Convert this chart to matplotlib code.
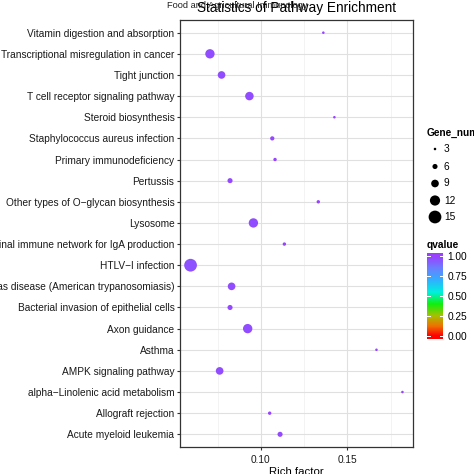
import numpy as np
import matplotlib
matplotlib.use("Agg")
import matplotlib.pyplot as plt
from matplotlib.colors import LinearSegmentedColormap

pathways = [
    "Vitamin digestion and absorption",
    "Transcriptional misregulation in cancer",
    "Tight junction",
    "T cell receptor signaling pathway",
    "Steroid biosynthesis",
    "Staphylococcus aureus infection",
    "Primary immunodeficiency",
    "Pertussis",
    "Other types of O\u2212glycan biosynthesis",
    "Lysosome",
    "Intestinal immune network for IgA production",
    "HTLV\u2212I infection",
    "Chagas disease (American trypanosomiasis)",
    "Bacterial invasion of epithelial cells",
    "Axon guidance",
    "Asthma",
    "AMPK signaling pathway",
    "alpha\u2212Linolenic acid metabolism",
    "Allograft rejection",
    "Acute myeloid leukemia",
]
rich_factor = [0.1361, 0.0706, 0.0773, 0.0934, 0.1425, 0.1066, 0.1082, 0.0822,
               0.1332, 0.0957, 0.1136, 0.0594, 0.0831, 0.0822, 0.0924, 0.1668,
               0.0762, 0.1818, 0.1051, 0.1111]
gene_number = [3, 11, 9, 10, 3, 5, 4, 6, 4, 11, 4, 15, 9, 6, 11, 3, 9, 3, 4, 6]
qvalue = [0.99, 0.97, 0.97, 0.97, 0.99, 0.98, 0.99, 0.98, 0.99, 0.97,
          0.99, 0.96, 0.97, 0.98, 0.97, 0.99, 0.97, 0.99, 0.99, 0.98]
size_breaks = [3, 6, 9, 12, 15]
q_ticks = [0.00, 0.25, 0.50, 0.75, 1.00]
x_ticks = [0.10, 0.15]

FONT = "Liberation Sans"
plt.rcParams['font.family'] = [FONT, 'DejaVu Sans']

cmap = LinearSegmentedColormap.from_list("rb", [
    (0.00, "#FF0000"), (0.12, "#F07000"), (0.25, "#A8C000"),
    (0.40, "#10F010"), (0.55, "#00F0E0"), (0.70, "#30B0FF"),
    (0.85, "#6A80FF"), (1.00, "#9A40FF")])

def diam_pts(n):
    return np.asarray(n) * 0.85 * 72 / 100.0

FS = 7.25
W = 474
fig = plt.figure(figsize=(4.74, 4.74), dpi=100)
ax = fig.add_axes([180 / W, (474 - 447) / W, (413 - 180) / W, (447 - 20) / W])

y = np.arange(len(pathways))
ax.scatter(rich_factor, y, s=diam_pts(gene_number) ** 2,
           c=cmap(np.array(qvalue)), edgecolors='none', zorder=3)
ax.set_ylim(len(pathways) - 0.4, -0.6)
ax.set_xlim(0.0533, 0.1879)
ax.set_yticks(y)
ax.set_yticklabels(pathways)
ax.set_xticks(x_ticks)
ax.set_xticklabels(["%.2f" % v for v in x_ticks])
ax.set_xticks([0.075, 0.125, 0.175], minor=True)
ax.tick_params(axis='both', which='major', labelsize=FS, length=2.5, width=0.8,
               color='#333333', labelcolor='#1a1a1a', pad=1.5)
ax.tick_params(axis='x', which='major', pad=3)
ax.tick_params(axis='x', which='minor', length=0)
ax.grid(True, which='major', color='#E0E0E0', linewidth=0.8, zorder=0)
ax.grid(True, which='minor', axis='x', color='#EFEFEF', linewidth=0.5, zorder=0)
ax.set_axisbelow(True)
for sp in ax.spines.values():
    sp.set_color('#333333')
    sp.set_linewidth(0.9)
ax.set_xlabel("Rich factor", fontsize=8.2, labelpad=1.5)
fig.text(296.5 / W, 1 - 8 / W, "Statistics of Pathway Enrichment", fontsize=9.8,
         ha='center', va='center')
fig.text(237 / W, 1 - 5 / W, "Food and Agricultural Immunology", fontsize=6.7,
         ha='center', va='center', color='#222222')

# size legend
fig.text(427 / W, 1 - 133 / W, "Gene_number", fontsize=FS, fontweight='bold',
         ha='left', va='center')
lax = fig.add_axes([0, 0, 1, 1], facecolor='none')
lax.set_xlim(0, W)
lax.set_ylim(W, 0)
lax.axis('off')
leg_y = [149, 166.5, 183.5, 200.5, 217]
lax.scatter([435] * len(size_breaks), leg_y, s=diam_pts(size_breaks) ** 2,
            c='black', edgecolors='none')
for yy, b in zip(leg_y, size_breaks):
    lax.text(444, yy, str(b), fontsize=FS, ha='left', va='center')

# colour bar
fig.text(427 / W, 1 - 245 / W, "qvalue", fontsize=FS, fontweight='bold',
         ha='left', va='center')
cax = fig.add_axes([427 / W, (474 - 339) / W, 16 / W, 86 / W])
grad = np.linspace(-0.0375, 1.0375, 200).reshape(-1, 1)
cax.imshow(np.clip(grad, 0, 1), aspect='auto', cmap=cmap, origin='lower',
           extent=[0, 1, -0.0375, 1.0375], vmin=0, vmax=1)
cax.set_xlim(0, 1)
cax.set_ylim(-0.0375, 1.0375)
for t in q_ticks:
    cax.plot([0, 0.2], [t, t], color='white', lw=0.7)
    cax.plot([0.8, 1], [t, t], color='white', lw=0.7)
cax.set_xticks([])
cax.set_yticks(q_ticks)
cax.set_yticklabels(["%.2f" % t for t in q_ticks])
cax.yaxis.tick_right()
cax.tick_params(axis='y', length=0, labelsize=FS, pad=3)
for sp in cax.spines.values():
    sp.set_visible(False)

fig.savefig("out.png", dpi=100)
